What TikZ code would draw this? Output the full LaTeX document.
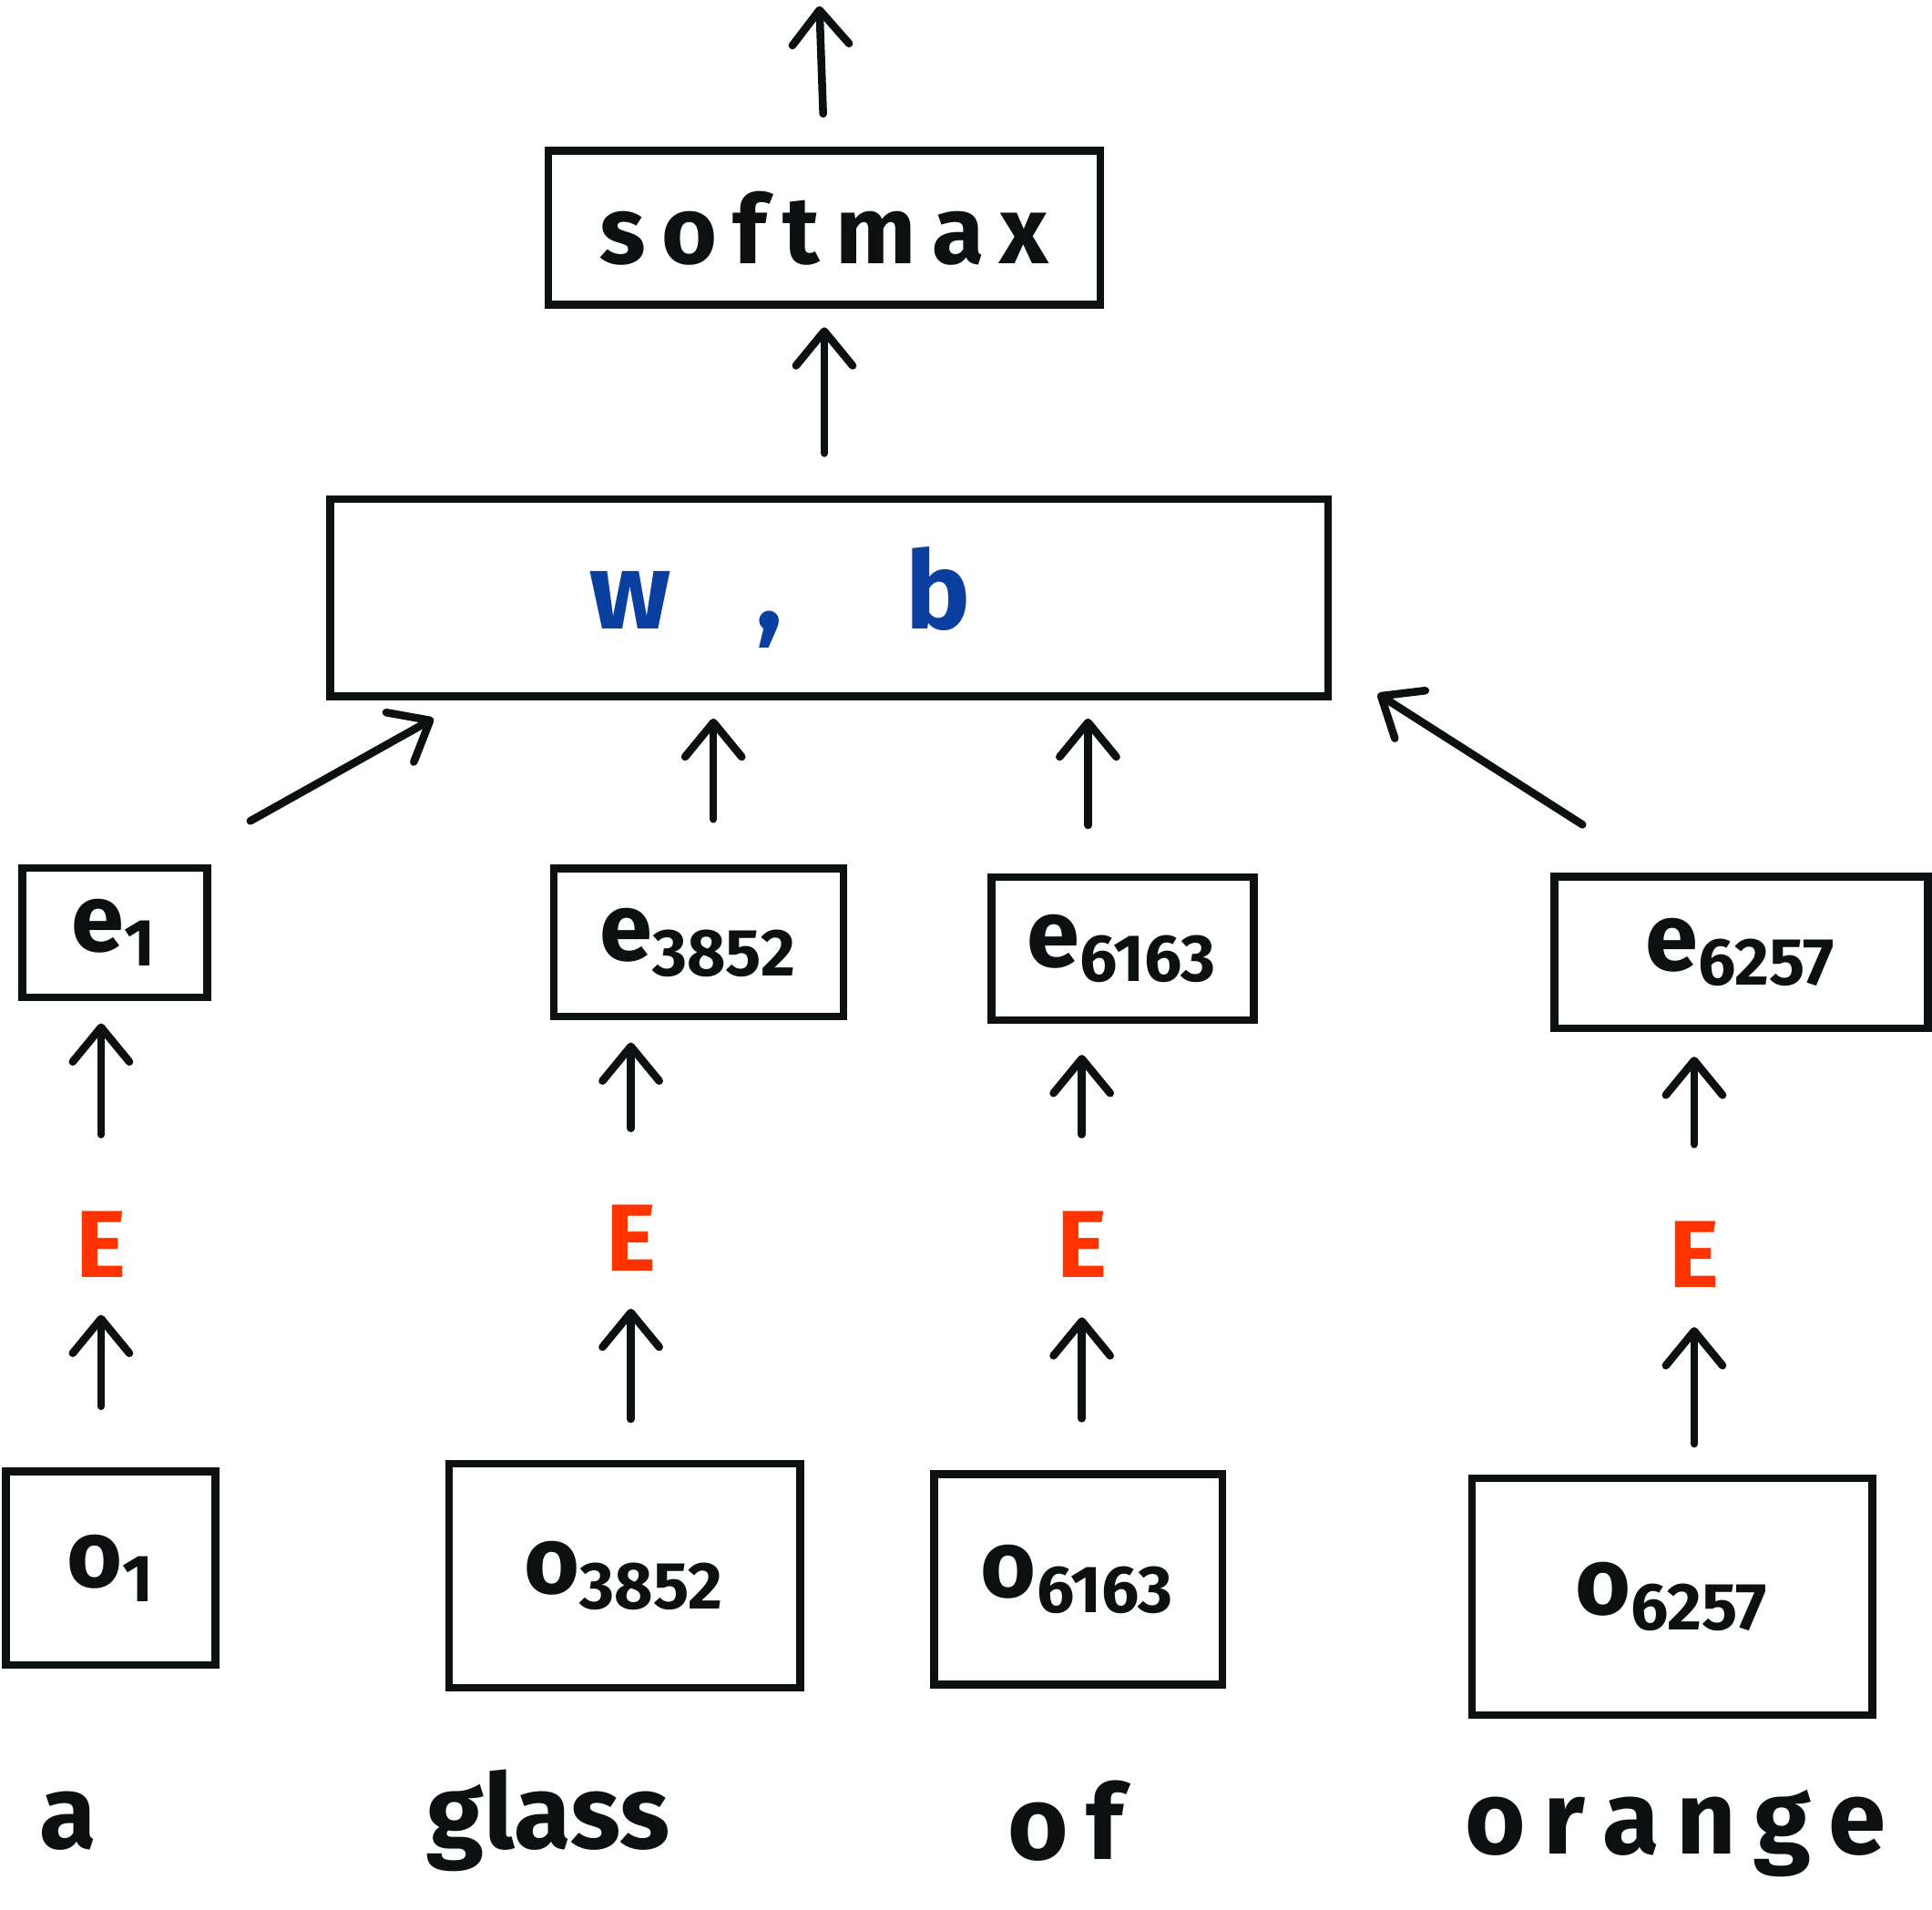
\documentclass[tikz,border=0pt]{standalone}
\usepackage{fontspec}
\setmainfont{Fira Sans}
\usetikzlibrary{arrows.meta}
\definecolor{ink}{RGB}{12, 16, 16}
\definecolor{embred}{RGB}{255, 51, 0}
\definecolor{parblue}{RGB}{10, 63, 160}
\tikzset{
  box/.style={
    draw,
    line width=1.8pt,
    inner sep=0pt,
    font=\fontsize{22}{26}\selectfont\bfseries},
  word/.style={
    font=\fontsize{24}{28}\selectfont\bfseries},
  lookup/.style={
    text=embred,
    font=\fontsize{22}{26}\selectfont\bfseries},
  up/.style={
    line width=1.8pt,
    line cap=round,
    -{Straight Barb[length=2.8mm,width=4.6mm,round]}}
}

\begin{document}
\begin{tikzpicture}[x=0.1mm, y=-0.1mm, color=ink]
  \useasboundingbox (0,0) rectangle (1568,1550);

  % softmax and output
  \node (softmax) [box, minimum width=44.8mm, minimum height=12.5mm] at (669,185) {s\,o\,f\,t\,m\,a\,x};
  \coordinate (out) at (665,5);
  \draw[up, shorten <=2.7mm] (softmax.north) -- (out);

  % weights
  \node (wb) [box, minimum width=81mm, minimum height=16mm] at (673,485)
    {\textcolor{parblue}{\fontsize{25}{28}\selectfont w\hspace{7mm},\hspace{10mm}b\hspace{8mm}}};
  \draw[up, shorten <=3.4mm, shorten >=1.5mm] (wb.north -| softmax.south) -- (softmax.south);

  % embeddings
  \node (e1) [box, minimum width=15mm, minimum height=10.5mm] at (93,757) {e\textsubscript{1}};
  \node (e3852) [box, minimum width=23.5mm, minimum height=12mm] at (567,765) {e\textsubscript{3852}};
  \node (e6163) [box, minimum width=21.3mm, minimum height=11.6mm] at (911,770) {e\textsubscript{6163}};
  \node (e6257) [box, minimum width=30.3mm, minimum height=12.3mm] at (1413,773) {e\textsubscript{6257}};

  \draw[up] ([shift={(32,-35)}]e1.north east) -- ([shift={(87,15)}]wb.south west);
  \draw[up, shorten <=3.7mm, shorten >=1.5mm] ([xshift=1.2mm]e3852.north) -- ([xshift=1.2mm]e3852.north |- wb.south);
  \draw[up, shorten <=3.9mm, shorten >=1.5mm] ([xshift=-2.8mm]e6163.north) -- ([xshift=-2.8mm]e6163.north |- wb.south);
  \draw[up] ([shift={(26,-39)}]e6257.north west) -- ([shift={(37,-5)}]wb.south east);

  % embedding matrix
  \node (E1) [lookup] at (82,1010) {E};
  \node (E3852) [lookup] at (512,1005) {E};
  \node (E6163) [lookup] at (878,1010) {E};
  \node (E6257) [lookup] at (1375,1018) {E};

  \draw[up, shorten <=5mm, shorten >=1.8mm] (E1.north) -- (E1.north |- e1.south);
  \draw[up, shorten <=5mm, shorten >=1.8mm] (E3852.north) -- (E3852.north |- e3852.south);
  \draw[up, shorten <=5mm, shorten >=2.5mm] (E6163.north) -- (E6163.north |- e6163.south);
  \draw[up, shorten <=5mm, shorten >=2mm] (E6257.north) -- (E6257.north |- e6257.south);

  % one-hot vectors
  \node (o1) [box, minimum width=17mm, minimum height=15.7mm] at (90,1273) {o\textsubscript{1}};
  \node (o3852) [box, minimum width=28.5mm, minimum height=18.2mm] at (507,1279) {o\textsubscript{3852}};
  \node (o6163) [box, minimum width=23.4mm, minimum height=17.1mm] at (875,1282) {o\textsubscript{6163}};
  \node (o6257) [box, minimum width=32.5mm, minimum height=19.2mm] at (1357,1296) {o\textsubscript{6257}};

  \draw[up, shorten <=5mm, shorten >=1.8mm] (o1.north -| E1.south) -- (E1.south);
  \draw[up, shorten <=3.3mm, shorten >=1.8mm] (o3852.north -| E3852.south) -- (E3852.south);
  \draw[up, shorten <=4.2mm, shorten >=2mm] (o6163.north -| E6163.south) -- (E6163.south);
  \draw[up, shorten <=2.5mm, shorten >=2mm] (o6257.north -| E6257.south) -- (E6257.south);

  % words
  \node (a) [word] at (55,1478) {a};
  \node (glass) [word] at (445,1478) {glass};
  \node (of) [word] at (865,1478) {o\,f};
  \node (orange) [word] at (1360,1488) {o\,r\,a\,n\,g\,e};
\end{tikzpicture}
\end{document}
